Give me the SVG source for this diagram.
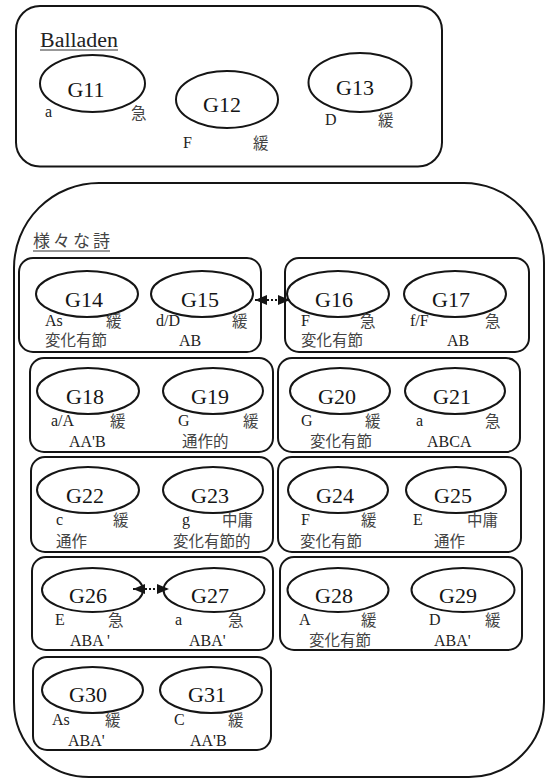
<svg xmlns="http://www.w3.org/2000/svg" width="545" height="781" viewBox="0 0 545 781">
  <style>
    .frame { fill: none; stroke: #151515; stroke-width: 2; }
    .box { fill: none; stroke: #151515; stroke-width: 2; }
    .ell { fill: none; stroke: #151515; stroke-width: 2; }
    .name { font-family: "Liberation Serif", "DejaVu Serif", serif; font-size: 22px; text-anchor: middle; fill: #151515; }
    .lat { font-family: "Liberation Serif", "DejaVu Serif", serif; font-size: 16px; fill: #222; }
    .jp { font-family: "Noto Sans CJK JP", sans-serif; font-size: 15.5px; fill: #444; }
    .head { font-family: "Liberation Serif", "DejaVu Serif", serif; font-size: 20px; fill: #222; }
    .headjp { font-family: "Noto Sans CJK JP", sans-serif; font-size: 17px; fill: #444; }
    .ul { stroke: #333; stroke-width: 1.2; }
    .link { stroke: #151515; stroke-width: 2; stroke-dasharray: 2 2; fill: none; }
  </style>
  <defs>
    <marker id="tri" viewBox="0 0 12 10" refX="12" refY="5" markerWidth="12" markerHeight="10" markerUnits="userSpaceOnUse" orient="auto-start-reverse">
      <path d="M0,0 L12,5 L0,10 Z" fill="#151515"/>
    </marker>
  </defs>
  <rect width="545" height="781" fill="#ffffff"/>

  <!-- Balladen group -->
  <g id="balladen">
    <rect class="frame" x="16" y="6" width="426" height="160.5" rx="24"/>
    <text class="head" x="40" y="47" textLength="78" lengthAdjust="spacingAndGlyphs">Balladen</text>
    <line class="ul" x1="40" y1="50" x2="118" y2="50"/>
  </g>

  <g id="G11">
    <ellipse class="ell" cx="92.5" cy="83.5" rx="52.5" ry="28.5"/>
    <text class="name" x="86" y="97">G11</text>
    <text class="lat" x="45" y="117">a</text>
    <text class="jp" x="131" y="119">急</text>
  </g>
  <g id="G12">
    <ellipse class="ell" cx="227" cy="99.5" rx="51" ry="28.5"/>
    <text class="name" x="222" y="112">G12</text>
    <text class="lat" x="183" y="148">F</text>
    <text class="jp" x="253" y="149">緩</text>
  </g>
  <g id="G13">
    <ellipse class="ell" cx="360" cy="82.5" rx="51.5" ry="29.5"/>
    <text class="name" x="355" y="95">G13</text>
    <text class="lat" x="325" y="125">D</text>
    <text class="jp" x="378" y="126">緩</text>
  </g>

  <!-- Various poems group -->
  <g id="poems">
    <path class="frame" d="M99,183 H464 A80,80 0 0 1 544,263 V702 A75,75 0 0 1 469,777 H89 A75,75 0 0 1 14,702 V268 A85,85 0 0 1 99,183 Z"/>
    <text class="headjp" x="33" y="247" textLength="77" lengthAdjust="spacing">様々な詩</text>
    <line class="ul" x1="33" y1="251" x2="110" y2="251"/>
    <rect class="box" x="19" y="258" width="242" height="94" rx="14"/>
    <rect class="box" x="285" y="258" width="244" height="94" rx="14"/>
    <rect class="box" x="30" y="358" width="243" height="94" rx="14"/>
    <rect class="box" x="278" y="358" width="242" height="94" rx="14"/>
    <rect class="box" x="31" y="457" width="242" height="95" rx="14"/>
    <rect class="box" x="278" y="457" width="243" height="95" rx="14"/>
    <rect class="box" x="32" y="557" width="241" height="93" rx="14"/>
    <rect class="box" x="280" y="557" width="242" height="93" rx="14"/>
    <rect class="box" x="33" y="657" width="238" height="93" rx="14"/>
  </g>

  <!-- row 1 -->
  <g id="G14">
    <ellipse class="ell" cx="87" cy="294" rx="51" ry="23"/>
    <text class="name" x="84" y="307">G14</text>
    <text class="lat" x="45" y="326">As</text>
    <text class="jp" x="106" y="327">緩</text>
    <text class="jp" x="45" y="346">変化有節</text>
  </g>
  <g id="G15">
    <ellipse class="ell" cx="202" cy="294" rx="51" ry="23"/>
    <text class="name" x="200" y="307">G15</text>
    <text class="lat" x="156" y="326">d/D</text>
    <text class="jp" x="232" y="327">緩</text>
    <text class="lat" x="179" y="346">AB</text>
  </g>
  <g id="G16">
    <ellipse class="ell" cx="338" cy="294" rx="51" ry="23"/>
    <text class="name" x="334" y="307">G16</text>
    <text class="lat" x="301" y="326">F</text>
    <text class="jp" x="360" y="327">急</text>
    <text class="jp" x="301" y="346">変化有節</text>
  </g>
  <g id="G17">
    <ellipse class="ell" cx="455" cy="294" rx="51" ry="23"/>
    <text class="name" x="451" y="307">G17</text>
    <text class="lat" x="410" y="326">f/F</text>
    <text class="jp" x="485" y="327">急</text>
    <text class="lat" x="447" y="346">AB</text>
  </g>

  <!-- row 2 -->
  <g id="G18">
    <ellipse class="ell" cx="88" cy="391" rx="51" ry="23"/>
    <text class="name" x="85" y="404">G18</text>
    <text class="lat" x="51" y="426">a/A</text>
    <text class="jp" x="110" y="427">緩</text>
    <text class="lat" x="69" y="447">AA'B</text>
  </g>
  <g id="G19">
    <ellipse class="ell" cx="213" cy="391" rx="50" ry="23"/>
    <text class="name" x="210" y="404">G19</text>
    <text class="lat" x="178" y="426">G</text>
    <text class="jp" x="243" y="427">緩</text>
    <text class="jp" x="182" y="447">通作的</text>
  </g>
  <g id="G20">
    <ellipse class="ell" cx="340" cy="391" rx="50" ry="23"/>
    <text class="name" x="337" y="404">G20</text>
    <text class="lat" x="301" y="426">G</text>
    <text class="jp" x="365" y="427">緩</text>
    <text class="jp" x="310" y="447">変化有節</text>
  </g>
  <g id="G21">
    <ellipse class="ell" cx="455" cy="391" rx="50" ry="23"/>
    <text class="name" x="452" y="404">G21</text>
    <text class="lat" x="416" y="426">a</text>
    <text class="jp" x="485" y="427">急</text>
    <text class="lat" x="427" y="447">ABCA</text>
  </g>

  <!-- row 3 -->
  <g id="G22">
    <ellipse class="ell" cx="88" cy="490" rx="51" ry="23"/>
    <text class="name" x="85" y="503">G22</text>
    <text class="lat" x="56" y="525">c</text>
    <text class="jp" x="113" y="526">緩</text>
    <text class="jp" x="56" y="547">通作</text>
  </g>
  <g id="G23">
    <ellipse class="ell" cx="213" cy="490" rx="50" ry="23"/>
    <text class="name" x="210" y="503">G23</text>
    <text class="lat" x="182" y="525">g</text>
    <text class="jp" x="222" y="526">中庸</text>
    <text class="jp" x="173" y="547">変化有節的</text>
  </g>
  <g id="G24">
    <ellipse class="ell" cx="338" cy="490" rx="50" ry="23"/>
    <text class="name" x="335" y="503">G24</text>
    <text class="lat" x="301" y="525">F</text>
    <text class="jp" x="361" y="526">緩</text>
    <text class="jp" x="300" y="547">変化有節</text>
  </g>
  <g id="G25">
    <ellipse class="ell" cx="456" cy="490" rx="50" ry="23"/>
    <text class="name" x="453" y="503">G25</text>
    <text class="lat" x="413" y="525">E</text>
    <text class="jp" x="467" y="526">中庸</text>
    <text class="jp" x="434" y="547">通作</text>
  </g>

  <!-- row 4 -->
  <g id="G26">
    <ellipse class="ell" cx="92.5" cy="590" rx="50.5" ry="22"/>
    <text class="name" x="88" y="603">G26</text>
    <text class="lat" x="55" y="625">E</text>
    <text class="jp" x="108" y="626">急</text>
    <text class="lat" x="70" y="646">ABA '</text>
  </g>
  <g id="G27">
    <ellipse class="ell" cx="214" cy="590" rx="50.5" ry="22"/>
    <text class="name" x="210" y="603">G27</text>
    <text class="lat" x="175" y="625">a</text>
    <text class="jp" x="228" y="626">急</text>
    <text class="lat" x="189" y="646">ABA'</text>
  </g>
  <g id="G28">
    <ellipse class="ell" cx="338" cy="590" rx="50.5" ry="22"/>
    <text class="name" x="334" y="603">G28</text>
    <text class="lat" x="299" y="625">A</text>
    <text class="jp" x="361" y="626">緩</text>
    <text class="jp" x="309" y="646">変化有節</text>
  </g>
  <g id="G29">
    <ellipse class="ell" cx="463" cy="590" rx="51.5" ry="22"/>
    <text class="name" x="458" y="603">G29</text>
    <text class="lat" x="429" y="625">D</text>
    <text class="jp" x="485" y="626">緩</text>
    <text class="lat" x="434" y="646">ABA'</text>
  </g>

  <!-- row 5 -->
  <g id="G30">
    <ellipse class="ell" cx="92.5" cy="690" rx="50.5" ry="23"/>
    <text class="name" x="88" y="702">G30</text>
    <text class="lat" x="52" y="725">As</text>
    <text class="jp" x="105" y="726">緩</text>
    <text class="lat" x="68" y="746">ABA'</text>
  </g>
  <g id="G31">
    <ellipse class="ell" cx="211" cy="690" rx="51" ry="23"/>
    <text class="name" x="207" y="702">G31</text>
    <text class="lat" x="174" y="725">C</text>
    <text class="jp" x="228" y="726">緩</text>
    <text class="lat" x="190" y="746">AA'B</text>
  </g>

  <!-- connectors -->
  <g id="connectors">
    <line class="link" x1="255" y1="300" x2="290" y2="300" marker-start="url(#tri)" marker-end="url(#tri)"/>
    <line class="link" x1="133" y1="589" x2="169" y2="589" marker-start="url(#tri)" marker-end="url(#tri)"/>
  </g>
</svg>
